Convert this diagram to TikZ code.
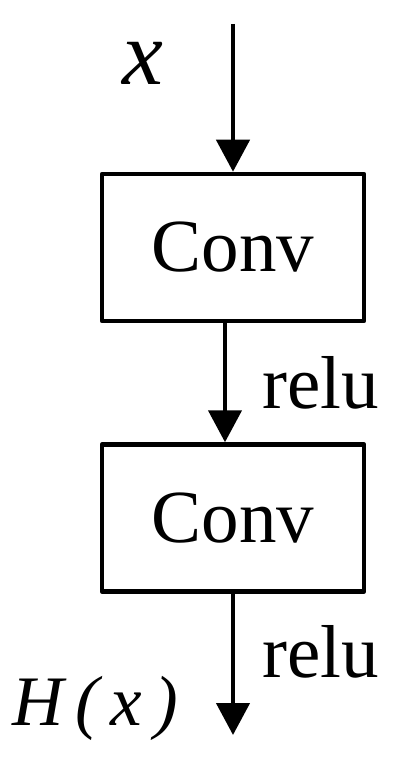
\documentclass[tikz,border=0pt]{standalone}
\usepackage{fontspec}
\setmainfont{Liberation Serif}
\usetikzlibrary{arrows.meta}

\tikzset{
  convbox/.style={draw, line width=4.5pt, line join=round, rectangle,
    minimum width=262pt, minimum height=147pt, inner sep=0pt,
    font=\fontsize{75}{80}\selectfont},
  flow/.style={line width=4.5pt, -{Triangle[width=33pt,length=32pt]}},
  lbl/.style={inner sep=0pt, font=\fontsize{75}{80}\selectfont}
}

\begin{document}
\begin{tikzpicture}[x=1pt, y=-1pt]
                    \useasboundingbox (0,0) rectangle (404,767);

                    % Input
                    \coordinate (in) at (233,24);
                    \node[lbl, anchor=base west, font=\fontsize{92}{100}\selectfont\itshape] (xin) at (122,85) {x};

                    % First conv (top)
                    \node[convbox] (conv1) at (233,247.5) {Conv};

                    % Second conv (bottom)
                    \node[convbox] (conv2) at (233,518) {Conv};

                    % Output
                    \coordinate (out) at (233,735);
                    \node[lbl, anchor=base west, font=\fontsize{71}{76}\selectfont\itshape] (hx) at (12,725) {H\,(\,x\,)};

                    % Arrows
                    \draw[flow] (in) -- (conv1.north);
                    \draw[flow] ([xshift=-8pt]conv1.south) -- ([xshift=-8pt]conv2.north);
                    \draw[flow] (conv2.south) -- (out);

                    \node[lbl, anchor=base west] (relu1) at (262,408) {relu};
                    \node[lbl, anchor=base west] (relu2) at (262,677) {relu};
                \end{tikzpicture}
\end{document}
